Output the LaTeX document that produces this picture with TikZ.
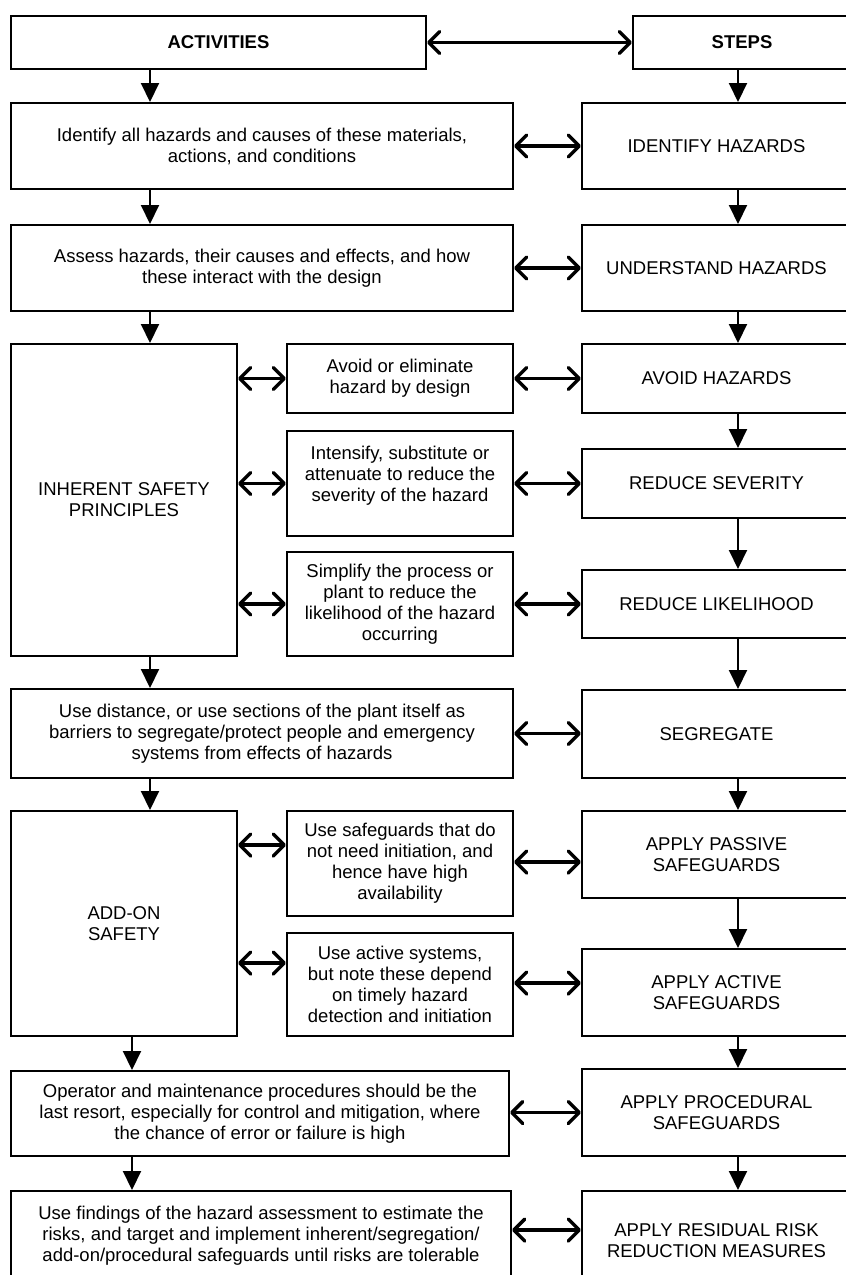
\documentclass[tikz,border=0pt]{standalone}
\usepackage{fontspec}
\setmainfont{Liberation Sans}
\usetikzlibrary{arrows.meta}
\begin{document}
\begin{tikzpicture}[x=1bp,y=-1bp,
  box/.style={draw, line width=2bp, anchor=north west, align=center, inner sep=2bp,
    font=\fontsize{18.5bp}{21bp}\selectfont},
  down/.style={line width=2bp, -{Triangle[width=18bp,length=19bp]}},
  dbl/.style={line width=3.5bp, line cap=round, {Straight Barb[length=11bp,width=22bp,round]}-{Straight Barb[length=11bp,width=22bp,round]}}
]
\useasboundingbox (0,0) rectangle (846,1275);
% left column
\node[box, minimum width=415bp, minimum height=53bp] (act) at (10,15) {\textbf{ACTIVITIES}};
\node[box, minimum width=502bp, minimum height=86bp] (a1) at (10,102) {Identify all hazards and causes of these materials,\\actions, and conditions};
\node[box, minimum width=502bp, minimum height=86bp] (a2) at (10,224) {Assess hazards, their causes and effects, and how\\these interact with the design};
\node[box, minimum width=226bp, minimum height=312bp] (inh) at (10,343) {INHERENT SAFETY\\PRINCIPLES};
\node[box, minimum width=502bp, minimum height=89bp] (a3) at (10,688) {Use distance, or use sections of the plant itself as\\barriers to segregate/protect people and emergency\\systems from effects of hazards};
\node[box, minimum width=226bp, minimum height=225bp] (add) at (10,810) {ADD-ON\\SAFETY};
\node[box, minimum width=498bp, minimum height=85bp] (a4) at (10,1070) {Operator and maintenance procedures should be the\\last resort, especially for control and mitigation, where\\the chance of error or failure is high};
\node[box, minimum width=500bp, minimum height=90bp] (a5) at (10,1190) {Use findings of the hazard assessment to estimate the\\risks, and target and implement inherent/segregation/\\add-on/procedural safeguards until risks are tolerable};
\path[draw, line width=2bp] (a5.south west) -- ++(0,20) (a5.south east) -- ++(0,20);
% middle column
\node[box, minimum width=226bp, minimum height=69bp] (b1) at (286,343) {Avoid or eliminate\\hazard by design};
\node[box, minimum width=226bp, minimum height=105bp] (b2) at (286,430) {Intensify, substitute or\\attenuate to reduce the\\\raisebox{0pt}[0pt][20bp]{severity of the hazard}};
\node[box, minimum width=226bp, minimum height=104bp] (b3) at (286,551) {Simplify the process or\\plant to reduce the\\likelihood of the hazard\\occurring};
\node[box, minimum width=226bp, minimum height=105bp] (c1) at (286,810) {Use safeguards that do\\not need initiation, and\\hence have high\\availability};
\node[box, minimum width=226bp, minimum height=103bp] (c2) at (286,932) {Use active systems,\\but note these depend\\on timely hazard\\detection and initiation};
% right column
\node[box, minimum width=218bp, minimum height=53bp] (steps) at (632,15) {\textbf{STEPS}};
\node[box, minimum width=269bp, minimum height=86bp] (s1) at (581,102) {IDENTIFY HAZARDS};
\node[box, minimum width=269bp, minimum height=86bp] (s2) at (581,224) {UNDERSTAND HAZARDS};
\node[box, minimum width=269bp, minimum height=69bp] (s3) at (581,343) {AVOID HAZARDS};
\node[box, minimum width=269bp, minimum height=69bp] (s4) at (581,448) {REDUCE SEVERITY};
\node[box, minimum width=269bp, minimum height=68bp] (s5) at (581,569) {REDUCE LIKELIHOOD};
\node[box, minimum width=269bp, minimum height=88bp] (s6) at (581,689) {SEGREGATE};
\node[box, minimum width=269bp, minimum height=87bp] (s7) at (581,810) {APPLY PASSIVE\\SAFEGUARDS};
\node[box, minimum width=269bp, minimum height=87bp] (s8) at (581,948) {APPLY ACTIVE\\SAFEGUARDS};
\node[box, minimum width=269bp, minimum height=87bp] (s9) at (581,1068) {APPLY PROCEDURAL\\SAFEGUARDS};
\node[box, minimum width=269bp, minimum height=100bp] (s10) at (581,1190) {APPLY RESIDUAL RISK\\REDUCTION MEASURES};
% reference columns / rows
\coordinate (cl) at (150,0);
\coordinate (cm) at (132,0);
\coordinate (cr) at (738,0);
\coordinate (y1) at (0,845);
\coordinate (y2) at (0,862);
\coordinate (y3) at (0,963);
\coordinate (y4) at (0,983);
\coordinate (y5) at (0,1230);
% down arrows left
\draw[down] (act.south -| cl) -- (a1.north -| cl);
\draw[down] (a1.south -| cl) -- (a2.north -| cl);
\draw[down] (a2.south -| cl) -- (inh.north -| cl);
\draw[down] (inh.south -| cl) -- (a3.north -| cl);
\draw[down] (a3.south -| cl) -- (add.north -| cl);
\draw[down] (add.south -| cm) -- (a4.north -| cm);
\draw[down] (a4.south -| cm) -- (a5.north -| cm);
% down arrows right
\draw[down] (steps.south -| cr) -- (s1.north -| cr);
\draw[down] (s1.south -| cr) -- (s2.north -| cr);
\draw[down] (s2.south -| cr) -- (s3.north -| cr);
\draw[down] (s3.south -| cr) -- (s4.north -| cr);
\draw[down] (s4.south -| cr) -- (s5.north -| cr);
\draw[down] (s5.south -| cr) -- (s6.north -| cr);
\draw[down] (s6.south -| cr) -- (s7.north -| cr);
\draw[down] (s7.south -| cr) -- (s8.north -| cr);
\draw[down] (s8.south -| cr) -- (s9.north -| cr);
\draw[down] (s9.south -| cr) -- (s10.north -| cr);
% double arrows
\draw[dbl] (act.east) -- (steps.west);
\draw[dbl] (a1.east) -- (s1.west);
\draw[dbl] (a2.east) -- (s2.west);
\draw[dbl] (inh.east |- b1.west) -- (b1.west);
\draw[dbl] (b1.east) -- (s3.west);
\draw[dbl] (inh.east |- b2.west) -- (b2.west);
\draw[dbl] (b2.east) -- (s4.west |- b2.east);
\draw[dbl] (inh.east |- b3.west) -- (b3.west);
\draw[dbl] (b3.east) -- (s5.west |- b3.east);
\draw[dbl] (a3.east) -- (s6.west |- a3.east);
\draw[dbl] (add.east |- y1) -- (c1.west |- y1);
\draw[dbl] (c1.east |- y2) -- (s7.west |- y2);
\draw[dbl] (add.east |- y3) -- (c2.west |- y3);
\draw[dbl] (c2.east |- y4) -- (s8.west |- y4);
\draw[dbl] (a4.east |- s9.west) -- (s9.west);
\draw[dbl] (a5.east |- y5) -- (s10.west |- y5);
\end{tikzpicture}
\end{document}
